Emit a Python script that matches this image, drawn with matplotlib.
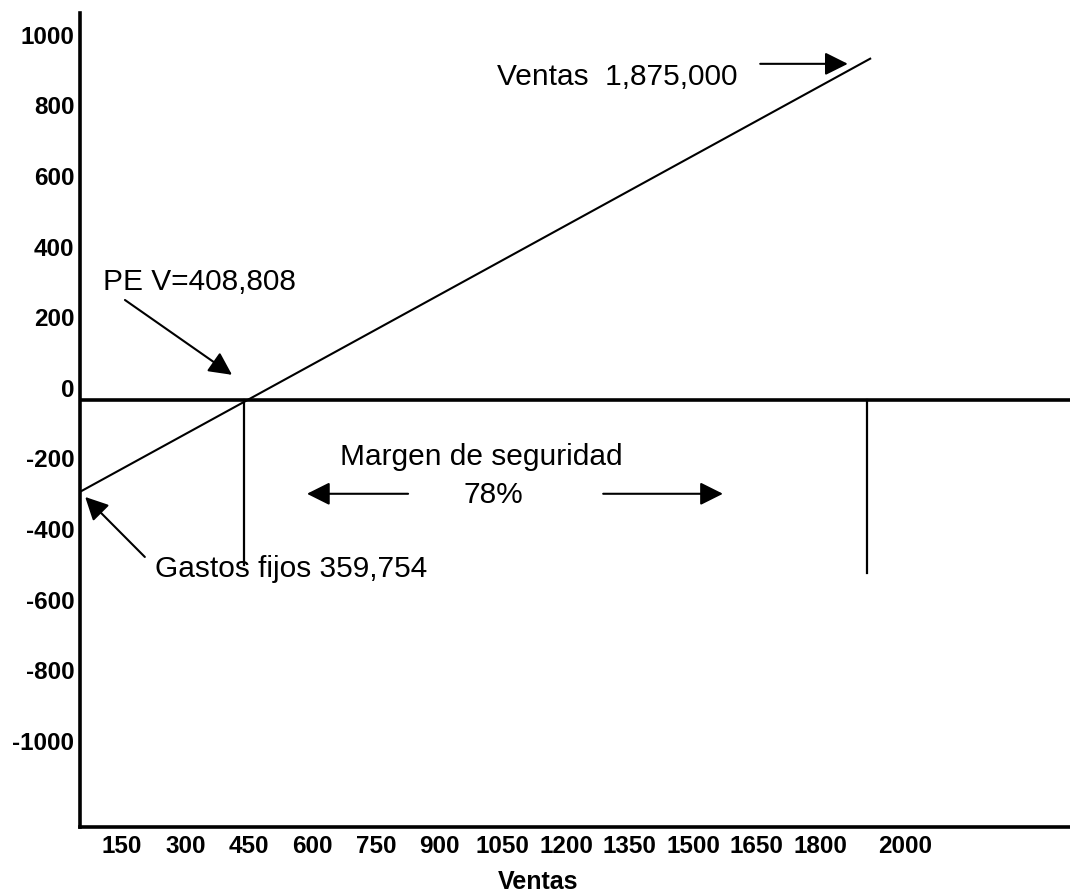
import matplotlib
matplotlib.use("Agg")
import matplotlib.pyplot as plt
from matplotlib.transforms import ScaledTranslation

plt.rcParams['font.family'] = ['Liberation Sans', 'DejaVu Sans']

# ---- data (chart units) ----
ventas_x = [50, 1920]          # sales line, x (Ventas)
ventas_y = [-261, 968]         # sales line, y
pe_x = 438                     # break-even vertical line
pe_drop = -467
ventas_total_x = 1910          # total sales vertical line
ventas_total_drop = -490
x_ticks = [150, 300, 450, 600, 750, 900, 1050, 1200, 1350, 1500, 1650, 1800, 2000]
y_ticks = [1000, 800, 600, 400, 200, 0, -200, -400, -600, -800, -1000]

W, H = 1070, 896
fig = plt.figure(figsize=(W / 100, H / 100), dpi=100)
L, R, T, B = 80, 1070, 13, 827
ax = fig.add_axes([L / W, (H - B) / H, (R - L) / W, (B - T) / H])

ax.set_xlim(50.8, 2390)
ax.set_ylim(-1210, 1096)

for s in ['top', 'right']:
    ax.spines[s].set_visible(False)
for s in ['left', 'bottom']:
    ax.spines[s].set_linewidth(2.6)
    ax.spines[s].set_color('black')

ax.set_xticks(x_ticks)
ax.set_xticklabels([str(v) for v in x_ticks])
ax.set_yticks(y_ticks)
ax.set_yticklabels([str(v) for v in y_ticks])
ax.tick_params(axis='both', length=0, labelsize=17.5)
ax.tick_params(axis='y', pad=4)
ax.tick_params(axis='x', pad=6)
for lab in ax.get_xticklabels() + ax.get_yticklabels():
    lab.set_fontweight('bold')
off = ScaledTranslation(0, 12 / 100, fig.dpi_scale_trans)
for lab in ax.get_yticklabels():
    lab.set_transform(lab.get_transform() + off)

ax.set_xlabel('Ventas', fontsize=18, fontweight='bold')
ax.xaxis.set_label_coords((538 - L) / (R - L), -(870 - B) / (B - T))

# zero line
ax.axhline(0, color='black', lw=2.6)
# sales line
ax.plot(ventas_x, ventas_y, color='black', lw=1.5, solid_capstyle='butt')
# verticals
ax.plot([pe_x, pe_x], [0, pe_drop], color='black', lw=1.6)
ax.plot([ventas_total_x, ventas_total_x], [0, ventas_total_drop], color='black', lw=1.6)

fs = 21.5
aprops = dict(arrowstyle='-|>,head_length=0.7,head_width=0.35', mutation_scale=20,
              color='black', lw=1.5, shrinkA=0, shrinkB=0)

ax.text(105, 311, 'PE V=408,808', fontsize=fs, ha='left', va='baseline')
ax.annotate('', xy=(410, 71), xytext=(157, 283), arrowprops=aprops)

ax.text(228, -501, 'Gastos fijos 359,754', fontsize=fs, ha='left', va='baseline')
ax.annotate('', xy=(63, -275), xytext=(204, -445), arrowprops=aprops)

ax.text(1036, 892, 'Ventas  1,875,000', fontsize=fs, ha='left', va='baseline')
ax.annotate('', xy=(1865, 952), xytext=(1658, 952), arrowprops=aprops)

ax.text(1000, -184, 'Margen de seguridad', fontsize=fs, ha='center', va='baseline')
ax.text(1027, -292, '78%', fontsize=fs, ha='center', va='baseline')
ax.annotate('', xy=(587, -266), xytext=(826, -266), arrowprops=aprops)
ax.annotate('', xy=(1570, -266), xytext=(1287, -266), arrowprops=aprops)

fig.savefig('out.png', dpi=100)
